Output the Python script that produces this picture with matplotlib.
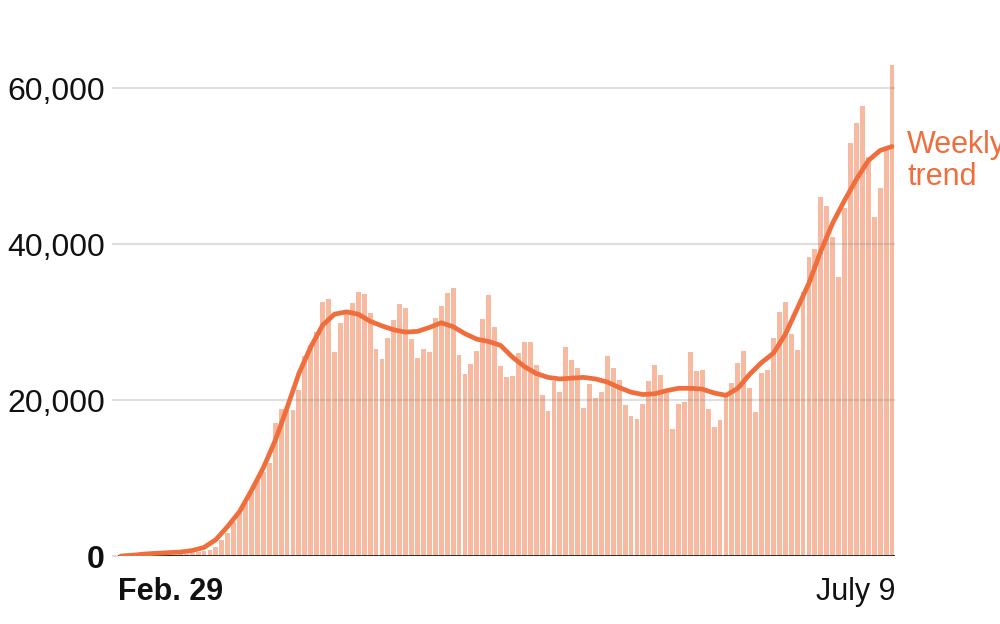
import matplotlib
matplotlib.use('Agg')
import matplotlib.pyplot as plt

# 日ごとの新規感染者数（Feb. 29 〜 July 9、画像から読み取り）
cases = [3, 8, 12, 20, 30, 50, 70, 90, 110, 150,
         220, 300, 400, 500, 600, 750, 1100, 2000, 3000, 4300,
         5500, 6800, 8200, 9800, 10800, 11900, 17100, 18900, 19200, 18700,
         21300, 25600, 27000, 28700, 32600, 33000, 26100, 29900, 31600, 32500,
         33800, 33600, 31100, 26600, 25200, 27900, 30300, 32300, 31800, 27800,
         25400, 26600, 26200, 30500, 32100, 33700, 34300, 25800, 23300, 24600,
         26300, 30400, 33400, 29300, 24400, 23000, 23100, 26000, 27500, 27400,
         24500, 20600, 18600, 22500, 21000, 26800, 25100, 24100, 19000, 22000,
         20200, 21000, 25600, 24100, 22600, 19400, 18000, 17600, 19500, 22400,
         24500, 23200, 20900, 16300, 19500, 19800, 26200, 23700, 23900, 18900,
         16500, 17500, 20400, 22200, 24800, 26300, 21500, 18500, 23400, 23900,
         28000, 31300, 32600, 28500, 26400, 33900, 38300, 39400, 46000, 44900,
         40900, 35800, 44600, 53000, 55500, 57700, 51200, 43500, 47200, 52000,
         63000]

# 週平均の線（2日おきに読み取り）
trend_days = list(range(0, 131, 2))
trend = [0, 100, 250, 350, 430, 500, 700, 1100, 2100, 3800,
         5700, 8400, 11300, 14800, 19000, 23400, 26800, 29600, 31000, 31300,
         31000, 30100, 29500, 29000, 28700, 28800, 29300, 29900, 29400, 28500,
         27800, 27500, 27000, 25500, 24300, 23400, 22900, 22700, 22800, 22900,
         22700, 22300, 21600, 21000, 20700, 20800, 21200, 21500, 21500, 21400,
         20900, 20600, 21500, 23300, 24800, 26000, 28400, 31700, 35000, 39100,
         42700, 45600, 48300, 50700, 52000, 52500]

y_ticks = [0, 20000, 40000, 60000]
y_tick_labels = ['0', '20,000', '40,000', '60,000']
start_label = 'Feb. 29'
end_label = 'July 9'
trend_label = 'Weekly\ntrend'

bar_color = '#f8b9a1'
line_color = '#f06d3c'

plt.rcParams['font.family'] = ['Liberation Sans', 'DejaVu Sans']

fig = plt.figure(figsize=(10, 6.24), dpi=100)
ax = fig.add_axes([0.118, 1 - 556 / 624, 0.777, 507 / 624])

ax.bar(range(len(cases)), cases, width=0.82, color=bar_color, zorder=1)
ax.plot(trend_days, trend, color=line_color, lw=3.4, zorder=4,
        solid_capstyle='round', solid_joinstyle='round')
ax.axhline(0, color='black', lw=1.8, zorder=3)

ax.set_xlim(-0.5, len(cases) - 0.5)
ax.set_ylim(0, 65000)
ax.set_xticks([])
ax.set_yticks(y_ticks, labels=y_tick_labels)
ax.get_yticklabels()[0].set_fontweight('bold')
ax.tick_params(axis='y', length=4.5, width=1.5, color='#dddddd', pad=5,
               labelsize=23, labelcolor='#111111')
ax.grid(axis='y', color='#808080', alpha=0.25, lw=1.6)
ax.set_axisbelow(False)
for s in ax.spines.values():
    s.set_visible(False)

# x軸の端のラベル
ax.text(0, -0.087, start_label, transform=ax.transAxes, ha='left',
        va='baseline', fontsize=22, fontweight='bold', color='#111111')
ax.text(1, -0.087, end_label, transform=ax.transAxes, ha='right',
        va='baseline', fontsize=22, color='#111111')

# 線のラベル（右端で切れるのは元の図と同じ）
ax.annotate(trend_label, xy=(trend_days[-1], trend[-1]), xytext=(11, 12),
            textcoords='offset points', ha='left', va='top',
            color=line_color, fontsize=22, linespacing=1.1,
            annotation_clip=False)

fig.savefig('out.png', dpi=100)
